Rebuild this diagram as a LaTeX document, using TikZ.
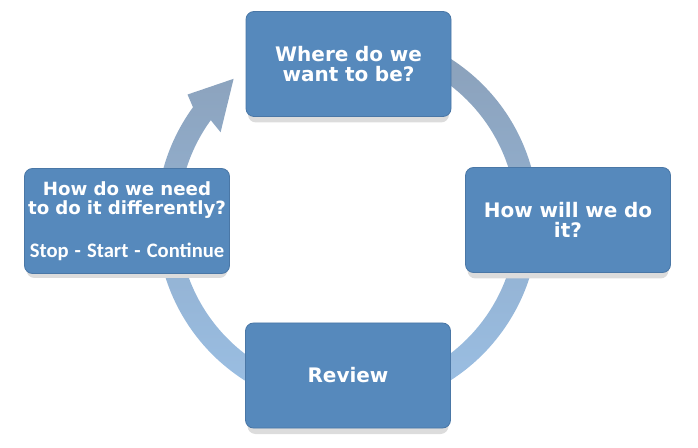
\documentclass[tikz,border=0pt]{standalone}
\usepackage{fontspec}
\setmainfont{DejaVu Sans}
\newfontfamily\stopfont{Carlito}
\definecolor{boxblue}{HTML}{5689BC}
\definecolor{boxedge}{HTML}{4A77A6}
\definecolor{boxshadow}{HTML}{DCDCDC}
\definecolor{ringtop}{HTML}{8A9FB8}
\definecolor{ringbot}{HTML}{9CC2E8}
\tikzset{
  stepbox/.style={rounded corners=8pt, fill=boxblue, draw=boxedge, line width=0.8pt,
    minimum width=205pt, minimum height=105pt, text width=200pt, align=center,
    text=white, inner sep=0pt},
  bigtxt/.style={font=\fontsize{20}{20.5}\selectfont\bfseries},
  smalltxt/.style={font=\fontsize{18.2}{19}\selectfont\bfseries},
  boxshade/.style={rounded corners=8pt, fill=boxshadow, draw=none,
    minimum width=201pt, minimum height=105pt}
}
\begin{document}
\begin{tikzpicture}[x=1pt,y=1pt]
\useasboundingbox (0,0) rectangle (698,447);
% ring with arrow head
\begin{scope}[shift={(347.5,227.5)}]
\shade[top color=ringtop, bottom color=ringbot]
  (144:191) arc[start angle=144, end angle=450, radius=191]
  -- (450:169) arc[start angle=450, end angle=144, radius=169]
  -- (145.5:154) -- (129:181) -- (142:203) -- cycle;
\end{scope}
% shadows
\node[boxshade] (s1) at (348.5,377) {};
\node[boxshade] (s2) at (568,221) {};
\node[boxshade] (s3) at (348,65.5) {};
\node[boxshade] (s4) at (127,221.5) {};
% boxes
\node[stepbox, bigtxt] (where) at (348.5,383) {Where do we\\want to be?};
\node[stepbox, bigtxt] (how) at (568,227) {How will we do\\it?};
\node[stepbox, bigtxt] (review) at (348,71.5) {Review};
\node[stepbox, smalltxt] (diff) at (127,226) {How do we need\\to do it differently?\\[24pt]{\stopfont\fontsize{20.6}{20}\selectfont\bfseries Stop - Start - Continue}};
\end{tikzpicture}
\end{document}
